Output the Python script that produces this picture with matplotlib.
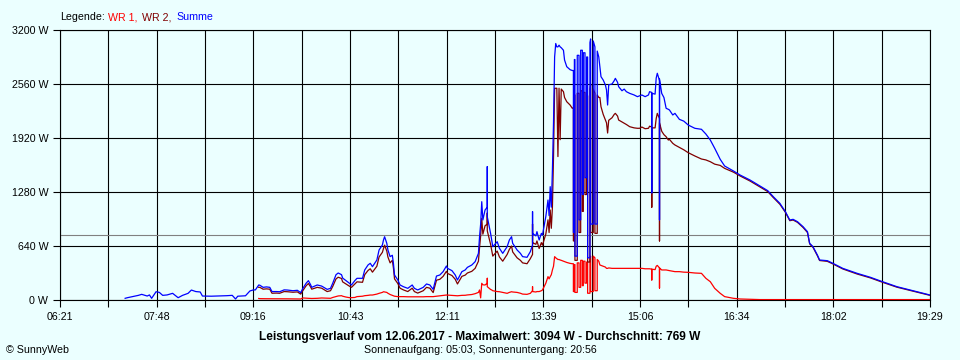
import sys
import matplotlib
matplotlib.use("Agg")
import matplotlib.pyplot as plt
import numpy as np

plt.rcParams['font.family'] = ['Liberation Sans', 'DejaVu Sans']

# ---------------- data ----------------
# Summe before the inverters report (07:20 - 09:18)
zeit_frueh = ["07:20", "07:22", "07:32", "07:35", "07:40", "07:42", "07:44", "07:48", "07:51", "07:54",
              "07:58", "08:03", "08:08", "08:12", "08:17", "08:20", "08:24", "08:28", "08:30", "08:38",
              "08:46", "08:52", "08:57", "09:00", "09:02", "09:09", "09:13", "09:16", "09:18"]
summe_frueh = [20, 27, 55, 67, 47, 60, 20, 98, 90, 55,
               60, 79, 27, 55, 79, 118, 100, 95, 47, 45,
               48, 51, 55, 12, 45, 50, 107, 119, 120]

zeit = [
    # 09:21 - 09:59
    "09:21", "09:22", "09:25", "09:28", "09:31", "09:33", "09:37", "09:40", "09:44", "09:47", "09:52", "09:56", "09:59",
    # 10:01 - 10:57
    "10:01", "10:04", "10:06", "10:08", "10:09", "10:14", "10:18", "10:23", "10:26", "10:28",
    "10:31", "10:33", "10:36", "10:37", "10:40", "10:43", "10:45", "10:48", "10:50", "10:55", "10:57",
    # 11:00 - 11:59
    "11:00", "11:02", "11:04", "11:08", "11:10", "11:13", "11:14", "11:15", "11:17", "11:18",
    "11:20", "11:22", "11:23", "11:24", "11:27", "11:29", "11:32", "11:36", "11:40", "11:42",
    "11:45", "11:50", "11:53", "11:56", "11:59",
    # 12:02 - 12:59
    "12:02", "12:05", "12:08", "12:11", "12:12", "12:16", "12:19", "12:21", "12:25", "12:28",
    "12:30", "12:34", "12:37", "12:40", "12:41", "12:42", "12:43", "12:44", "12:46", "12:48",
    "12:48", "12:48", "12:51", "12:52", "12:53", "12:57", "12:59",
    # 13:02 - 13:58
    "13:02", "13:06", "13:08", "13:10", "13:11", "13:15", "13:18", "13:20", "13:24", "13:27",
    "13:29", "13:29", "13:29", "13:32", "13:33", "13:35", "13:37", "13:38", "13:41", "13:43",
    "13:44", "13:45", "13:46", "13:47", "13:48", "13:49", "13:50", "13:51", "13:52", "13:53",
    "13:54", "13:55", "13:57", "13:58",
    # 14:00 - 14:30 (drop-outs)
    "14:00", "14:03", "14:05", "14:06:00", "14:06:00", "14:06:54", "14:06:54", "14:07:24", "14:07:24", "14:09:30",
    "14:09:30", "14:11:06", "14:11:06", "14:12:36", "14:12:36", "14:14:06", "14:14:06", "14:15:00", "14:15:00", "14:16:30",
    "14:16:30", "14:18:00", "14:18:00", "14:18:54", "14:18:54", "14:21:00", "14:21:00", "14:21:36", "14:21:36", "14:24:00",
    "14:24:00", "14:25:30", "14:25:30", "14:27:36", "14:27:36", "14:29", "14:30",
    # 14:31 - 15:33
    "14:31", "14:33", "14:35", "14:36", "14:37", "14:38", "14:41", "14:43", "14:44", "14:46",
    "14:47", "14:50", "14:52", "14:54", "14:57", "15:01", "15:04", "15:06", "15:08", "15:11",
    "15:14", "15:15", "15:17", "15:17", "15:17", "15:20", "15:21", "15:22", "15:24", "15:24",
    "15:24", "15:26", "15:28", "15:30", "15:32", "15:33",
    # 15:36 - 19:29
    "15:36", "15:38", "15:42", "15:46", "15:50", "15:56", "16:02", "16:06", "16:10", "16:14",
    "16:19", "16:23", "16:31", "16:37", "16:46", "16:55", "17:02", "17:07", "17:13", "17:18",
    "17:22", "17:25", "17:29", "17:34", "17:38", "17:40", "17:43", "17:47", "17:49", "17:56",
    "18:01", "18:10", "18:23", "18:35", "18:46", "18:59", "19:11", "19:23", "19:29",
]

summe = [
    178, 175, 150, 155, 150, 100, 100, 98, 120, 118, 110, 115, 87,
    138, 200, 229, 180, 150, 178, 165, 126, 138, 198,
    300, 320, 300, 260, 230, 200, 178, 229, 257, 257, 356,
    415, 435, 395, 474, 593, 652, 711, 750, 672, 593,
    514, 530, 435, 296, 237, 178, 158, 138, 178, 138,
    119, 150, 190, 178, 126,
    284, 296, 336, 403, 375, 348, 296, 237, 336, 356,
    387, 415, 454, 553, 750, 900, 1165, 948, 1067, 1100,
    1580, 987, 790, 711, 632, 691, 613,
    553, 632, 711, 750, 672, 593, 553, 514, 506, 573,
    652, 1047, 790, 760, 810, 711, 790, 770, 987, 1185,
    1000, 1343, 1100, 1540, 2100, 2880, 3040, 3000, 3000, 3020,
    3000, 2990, 2960, 2844,
    2765, 2730, 2720, 2720, 800, 800, 2850, 2850, 520, 520,
    2900, 2900, 950, 950, 2960, 2960, 1250, 1250, 2930, 2930,
    1450, 1450, 2880, 2880, 500, 500, 3050, 3094, 900, 900,
    3070, 3000, 900, 900, 2950, 2880, 2765,
    2647, 2607, 2548, 2489, 2311, 2550, 2560, 2600, 2627, 2580,
    2528, 2480, 2500, 2469, 2449, 2430, 2410, 2420, 2430, 2410,
    2430, 2469, 2460, 1270, 2450, 2440, 2630, 2687, 2600, 950,
    2620, 2449, 2400, 2272, 2260, 2252,
    2193, 2212, 2141, 2120, 2074, 2035, 2023, 1967, 1896, 1798,
    1667, 1588, 1529, 1481, 1422, 1351, 1296, 1225, 1146, 1047,
    948, 956, 928, 869, 810, 672, 632, 533, 474, 466,
    435, 375, 316, 269, 217, 158, 119, 79, 59,
]

wr2 = [
    150, 150, 128, 132, 128, 80, 82, 80, 100, 98, 92, 96, 70,
    112, 170, 195, 155, 128, 150, 140, 100, 110, 160,
    250, 270, 255, 215, 190, 165, 150, 190, 215, 210, 300,
    350, 370, 330, 400, 510, 565, 610, 650, 580, 510,
    440, 470, 380, 250, 195, 140, 120, 100, 140, 100,
    82, 110, 150, 140, 88,
    235, 245, 280, 340, 315, 290, 245, 190, 280, 295,
    320, 340, 375, 460, 620, 760, 968, 780, 880, 900,
    1030, 820, 660, 590, 520, 580, 510,
    460, 540, 600, 640, 570, 500, 470, 440, 430, 490,
    540, 900, 680, 660, 700, 610, 680, 650, 780, 950,
    800, 1067, 850, 1100, 1700, 2509, 2510, 2510, 1700, 2510,
    1900, 2500, 2469, 2400,
    2350, 2311, 2272, 2280, 700, 700, 2430, 2430, 470, 470,
    2450, 2450, 800, 800, 2480, 2480, 1050, 1050, 2460, 2460,
    1250, 1250, 2420, 2420, 450, 450, 2500, 2550, 800, 800,
    2500, 2450, 790, 790, 2430, 2400, 2400,
    2291, 2200, 2133, 2100, 1979, 2130, 2160, 2200, 2212, 2180,
    2133, 2110, 2094, 2080, 2054, 2040, 2035, 2035, 2050, 2030,
    2035, 2060, 2050, 1100, 2040, 2040, 2150, 2212, 2150, 700,
    2100, 2000, 1960, 1935, 1896, 1904,
    1857, 1837, 1809, 1780, 1746, 1707, 1671, 1660, 1639, 1610,
    1595, 1560, 1515, 1470, 1410, 1340, 1285, 1215, 1135, 1040,
    940, 948, 920, 860, 800, 665, 625, 525, 468, 458,
    428, 368, 308, 262, 210, 152, 113, 74, 55,
]

wr1 = [
    18, 16, 15, 15, 15, 14, 14, 14, 14, 14, 13, 13, 12,
    24, 22, 20, 18, 18, 20, 24, 22, 20, 30,
    40, 48, 51, 45, 35, 28, 28, 30, 40, 45, 51,
    55, 59, 59, 70, 79, 90, 98, 95, 90, 80,
    65, 55, 51, 45, 40, 40, 40, 38, 38, 38,
    38, 38, 40, 40, 40,
    45, 50, 55, 59, 58, 55, 52, 50, 55, 56,
    60, 65, 75, 90, 119, 25, 198, 180, 178, 200,
    257, 158, 125, 119, 110, 100, 98,
    90, 79, 90, 98, 95, 90, 80, 70, 67, 79,
    110, 158, 100, 95, 100, 100, 110, 119, 198, 277,
    250, 277, 300, 356, 400, 514, 500, 490, 480, 480,
    474, 470, 460, 454,
    445, 434, 430, 430, 100, 100, 420, 420, 90, 90,
    440, 440, 150, 150, 470, 470, 170, 170, 460, 460,
    200, 200, 450, 450, 80, 80, 500, 520, 100, 100,
    520, 500, 110, 110, 480, 460, 415,
    410, 400, 390, 375, 375, 380, 375, 375, 375, 375,
    375, 375, 375, 375, 375, 375, 375, 375, 375, 370,
    370, 370, 365, 237, 365, 360, 400, 410, 380, 142,
    380, 356, 356, 356, 350, 348,
    340, 336, 336, 330, 328, 320, 316, 257, 217, 138,
    79, 40, 20, 12, 8, 5, 5, 5, 5, 5,
    5, 5, 5, 5, 5, 5, 5, 5, 5, 5,
    5, 5, 5, 5, 5, 5, 5, 5, 5,
]

durchschnitt = 769
y_ticks = [0, 640, 1280, 1920, 2560, 3200]
x_labels = ["06:21", "07:48", "09:16", "10:43", "12:11", "13:39", "15:06", "16:34", "18:02", "19:29"]
x_start, x_end = "06:21", "19:29"

titel = "Leistungsverlauf vom 12.06.2017 - Maximalwert: 3094 W - Durchschnitt: 769 W"
untertitel = "Sonnenaufgang: 05:03, Sonnenuntergang: 20:56"

# ---------------- helpers ----------------
def tmin(s):
    p = [int(v) for v in s.split(":")]
    return p[0] * 60 + p[1] + (p[2] / 60 if len(p) > 2 else 0)

n = min(len(zeit), len(summe), len(wr1), len(wr2))
if not (len(zeit) == len(summe) == len(wr1) == len(wr2)):
    sys.stderr.write(f"length mismatch {len(zeit)} {len(summe)} {len(wr1)} {len(wr2)}\n")

x_wr = [tmin(t) for t in zeit[:n]]
x_sum = [tmin(t) for t in zeit_frueh] + x_wr
y_sum = summe_frueh + summe[:n]

BG = "#EBFFFF"
fig = plt.figure(figsize=(9.6, 3.6), dpi=100, facecolor=BG)
ax = fig.add_axes([60 / 960, 60 / 360, 870 / 960, 270 / 360], facecolor=BG)

x0, x1 = tmin(x_start), tmin(x_end)
ax.set_xlim(x0, x1)
ax.set_ylim(0, 3200)

xt = np.linspace(x0, x1, 2 * (len(x_labels) - 1) + 1)
labs = []
for i in range(len(xt)):
    labs.append(x_labels[i // 2] if i % 2 == 0 else "")
ax.set_xticks(xt)
ax.set_xticklabels(labs)
ax.set_yticks(y_ticks)
ax.set_yticklabels([f"{v} W" for v in y_ticks])

ax.tick_params(axis="both", length=5, width=0.8, colors="black", labelsize=7.7, pad=3.5)
ax.grid(True, color="black", lw=0.8, zorder=0)
ax.set_axisbelow(True)
for s in ax.spines.values():
    s.set_color("black")
    s.set_linewidth(0.8)

ax.axhline(durchschnitt, color="#808080", lw=0.8, zorder=1)
ax.plot(x_wr, wr1[:n], color="#FF0000", lw=0.9, zorder=2)
ax.plot(x_wr, wr2[:n], color="#800000", lw=0.9, zorder=3)
ax.plot(x_sum, y_sum, color="#0000FF", lw=0.9, zorder=4)

# legend line
fs = 7.7
ly = 1 - 20 / 360
fig.text(60 / 960, ly, "Legende:", color="black", fontsize=fs, va="baseline")
fig.text(107.7 / 960, ly, "WR 1,", color="#FF0000", fontsize=fs, va="baseline")
fig.text(141.7 / 960, ly, "WR 2,", color="#800000", fontsize=fs, va="baseline")
fig.text(176.7 / 960, ly, "Summe", color="#0000FF", fontsize=fs, va="baseline")

fig.text(480 / 960, 1 - 340 / 360, titel, ha="center", va="baseline", fontsize=8.6, fontweight="bold")
fig.text(480 / 960, 1 - 353 / 360, untertitel, ha="center", va="baseline", fontsize=fs)
fig.text(6 / 960, 1 - 353 / 360, "\u00a9 SunnyWeb", ha="left", va="baseline", fontsize=fs)

fig.savefig("out.png", dpi=100, facecolor=BG)
